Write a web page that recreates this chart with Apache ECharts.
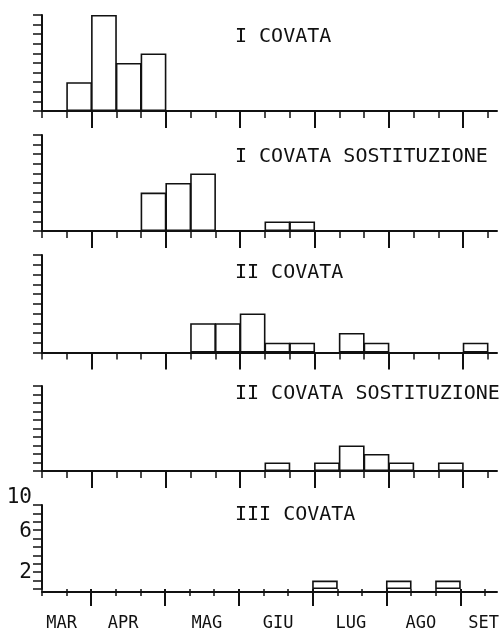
<!DOCTYPE html>
<html><head><meta charset="utf-8">
<script src="https://cdn.jsdelivr.net/npm/echarts@6/dist/echarts.min.js"></script>
<style>html,body{margin:0;padding:0;background:#fff}#c{width:502px;height:632px}</style>
</head><body><div id="c"></div>
<script>
// 18 ten-day periods (decadi): Mar 2-3, Apr 1-3, May 1-3, Jun 1-3, Jul 1-3, Aug 1-3, Sep 1
const bins = ['MAR2','MAR3','APR1','APR2','APR3','MAG1','MAG2','MAG3','GIU1','GIU2','GIU3','LUG1','LUG2','LUG3','AGO1','AGO2','AGO3','SET1'];
const boundaries = ['b0','b1','b2','b3','b4','b5','b6','b7','b8','b9','b10','b11','b12','b13','b14','b15','b16','b17','b18'];
const titles = ['I COVATA','I COVATA SOSTITUZIONE','II COVATA','II COVATA SOSTITUZIONE','III COVATA'];
const covata1     = [0,3,10,5,6,0,0,0,0,0,0,0,0,0,0,0,0,0];
const covata1Sost = [0,0,0,0,4,5,6,0,0,1,1,0,0,0,0,0,0,0];
const covata2     = [0,0,0,0,0,0,3,3,4,1,1,0,2,1,0,0,0,1];
const covata2Sost = [0,0,0,0,0,0,0,0,0,1,0,1,3,2,1,0,1,0];
const covata3     = [0,0,0,0,0,0,0,0,0,0,0,1,0,0,1,0,1,0];
const monthLabels = ['MAR','APR','MAG','GIU','LUG','AGO','SET'];
const monthLabelPos = [0.8,3.3,6.7,9.6,12.55,15.4,17.95];
const yTickLabels = [2,6,10];

const seriesData = [covata1, covata1Sost, covata2, covata2Sost, covata3];
const panelTop = [15,135,255,386,505];
const panelH = [96,96,97.5,85,87];
const titleCenter = [36.5,156.5,273,394,514.5];
const INK = '#111';
const MONO = 'DejaVu Sans Mono';

const grid = [], xAxis = [], yAxis = [], series = [], title = [];
for (let p = 0; p < 5; p++) {
  const g = grid.length;
  grid.push({left:42, right:14, top:panelTop[p], height:panelH[p]});
  grid.push({left:42, right:5, top:panelTop[p], height:panelH[p]});
  // extended axis line
  xAxis.push({type:'value', gridIndex:g+1, position:'bottom', min:0, max:1,
    axisLine:{show:true, onZero:false, lineStyle:{color:INK, width:2}},
    axisTick:{show:false}, axisLabel:{show:false}, splitLine:{show:false}});
  yAxis.push({type:'value', gridIndex:g+1, show:false, min:0, max:1});
  // bars axis with short ticks
  const barsX = xAxis.length;
  xAxis.push({type:'category', gridIndex:g, position:'bottom', data:bins, boundaryGap:true,
    axisLine:{show:false}, axisLabel:{show:false},
    axisTick:{show:true, interval:0, length:7, lineStyle:{color:INK, width:1.5}}});
  // long ticks at month boundaries
  xAxis.push({type:'category', gridIndex:g, position:'bottom', data:boundaries, boundaryGap:false,
    axisLine:{show:false}, axisLabel:{show:false},
    axisTick:{show:true, interval:(i)=> i % 3 === 2, length:17, lineStyle:{color:INK, width:2}}});
  if (p === 4) {
    xAxis.push({type:'value', gridIndex:g, position:'bottom', min:0, max:18, interval:0.05,
      axisLine:{show:false}, axisTick:{show:false}, splitLine:{show:false},
      axisLabel:{show:true, margin:26, color:INK, fontFamily:MONO, fontSize:17,
        formatter:(v)=>{ const k = Math.round(v*20); const idx = monthLabelPos.findIndex(m=>Math.round(m*20)===k); return idx>=0 ? monthLabels[idx] : ''; }}});
  }
  const yi = yAxis.length;
  yAxis.push({type:'value', gridIndex:g, position:'left', min:0, max:10, interval:1,
    axisLine:{show:true, onZero:false, lineStyle:{color:INK, width:2}},
    axisTick:{show:true, length:9, lineStyle:{color:INK, width:1.5}},
    splitLine:{show:false},
    axisLabel:{show:p===4, margin:10, color:INK, fontFamily:MONO, fontSize:21,
      formatter:(v)=>{ if (!yTickLabels.includes(v)) return ''; return v===2 ? String(v) : '{u|'+v+'}'; },
      rich:{u:{fontFamily:MONO, fontSize:21, color:INK, padding:[0,0,14,0]}}}});
  series.push({type:'bar', xAxisIndex:barsX, yAxisIndex:yi,
    data:seriesData[p].map(v => v === 0 ? '-' : v),
    barWidth:'104%', barGap:'-100%', silent:true,
    itemStyle:{color:'rgba(0,0,0,0)', borderColor:INK, borderWidth:1.6}});
  title.push({text:titles[p], left:235, top:titleCenter[p]-10, padding:0,
    textStyle:{fontFamily:MONO, fontSize:20, fontWeight:'normal', color:INK, lineHeight:20}});
}

const chart = echarts.init(document.getElementById('c'), null, {renderer:'canvas'});
chart.setOption({backgroundColor:'#fff', animation:false, title, grid, xAxis, yAxis, series});
</script></body></html>
